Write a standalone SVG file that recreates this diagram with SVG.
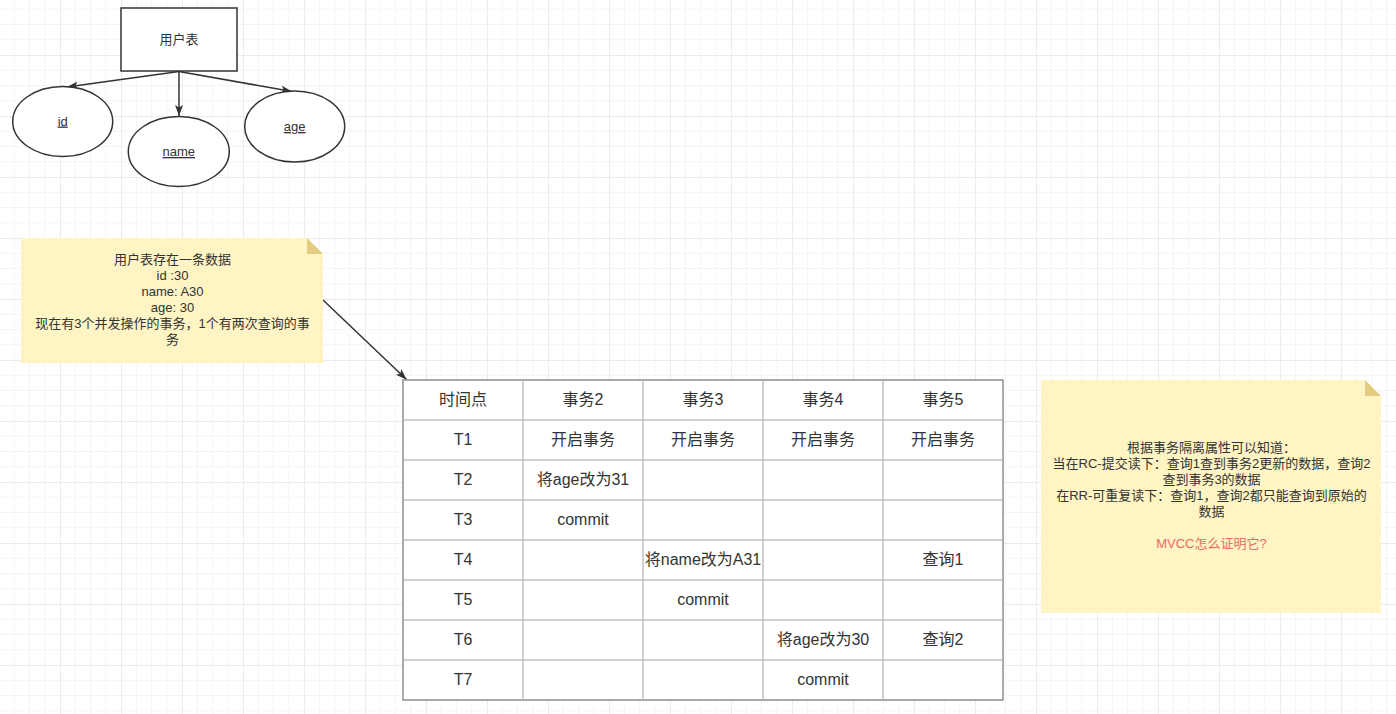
<svg xmlns="http://www.w3.org/2000/svg" width="1396" height="714" viewBox="0 0 1396 714">
<style>
  text { font-family: "Liberation Sans", "Noto Sans CJK SC", sans-serif; fill: #333333; text-anchor: middle; }
  .s12 { font-size: 13px; }
  .s14 { font-size: 16px; }
  .u { text-decoration: underline; }
  .shape { fill: #ffffff; stroke: #333333; stroke-width: 1.5; }
  .edge { fill: none; stroke: #333333; stroke-width: 1.5; }
  .note { fill: #fff4c3; stroke: none; }
  .fold { fill: #e2cc82; stroke: none; }
  .grid-in { stroke: #a3a3a3; stroke-width: 1; fill: none; }
  .grid-out { stroke: #8f8f8f; stroke-width: 1.5; fill: #ffffff; }
  .red { fill: #ea6b66; }
</style>
<defs>
  <pattern id="bg" x="-1" y="-6" width="61" height="61" patternUnits="userSpaceOnUse">
    <path d="M15.25 0V61M30.5 0V61M45.75 0V61M0 15.25H61M0 30.5H61M0 45.75H61" stroke="#f4f4f4" stroke-width="1" fill="none"/>
    <path d="M0.5 0V61M0 0.5H61" stroke="#ebebeb" stroke-width="1" fill="none"/>
  </pattern>
  <marker id="arr" markerUnits="userSpaceOnUse" markerWidth="12" markerHeight="10" refX="11" refY="4" orient="auto">
    <path d="M0,0 L11,4 L0,8 L2.5,4 Z" fill="#333333"/>
  </marker>
</defs>
<rect width="1396" height="714" fill="#ffffff"/>
<rect width="1396" height="714" fill="url(#bg)"/>

<g id="connectors">
  <path class="edge" d="M179 71.5 L67 87" marker-end="url(#arr)"/>
  <path class="edge" d="M179 71.5 L179 116" marker-end="url(#arr)"/>
  <path class="edge" d="M179 71.5 L292 91.5" marker-end="url(#arr)"/>
  <path class="edge" d="M323 300 L406.5 379.5" marker-end="url(#arr)"/>
</g>

<g id="node-users">
  <rect class="shape" x="121" y="8" width="116" height="63"/>
  <text class="s12" x="179" y="43.5">用户表</text>
</g>
<g id="node-id">
  <ellipse class="shape" cx="62.7" cy="121.5" rx="50" ry="35"/>
  <text class="s12 u" x="62.7" y="125.5">id</text>
</g>
<g id="node-name">
  <ellipse class="shape" cx="178.8" cy="151.5" rx="50.5" ry="35"/>
  <text class="s12 u" x="178.8" y="156">name</text>
</g>
<g id="node-age">
  <ellipse class="shape" cx="294.7" cy="126.5" rx="50" ry="35.5"/>
  <text class="s12 u" x="294.7" y="131">age</text>
</g>

<g id="note-data">
  <path class="note" d="M21 238 H307 L323 254 V363 H21 Z"/>
  <path class="fold" d="M307 238 L323 254 H307 Z"/>
  <text class="s12" x="172.5" y="263.5">用户表存在一条数据</text>
  <text class="s12" x="172.5" y="279.5">id :30</text>
  <text class="s12" x="172.5" y="295.5">name: A30</text>
  <text class="s12" x="172.5" y="311.5">age: 30</text>
  <text class="s12" x="172.5" y="327.5">现在有3个并发操作的事务，1个有两次查询的事</text>
  <text class="s12" x="172.5" y="343.5">务</text>
</g>

<g id="table">
  <rect class="grid-out" x="403" y="380" width="600" height="320"/>
  <path class="grid-in" d="M523 380V700M643 380V700M763 380V700M883 380V700M403 420H1003M403 460H1003M403 500H1003M403 540H1003M403 580H1003M403 620H1003M403 660H1003"/>
  <g class="s14">
    <text x="463" y="404.5">时间点</text>
    <text x="583" y="404.5">事务2</text>
    <text x="703" y="404.5">事务3</text>
    <text x="823" y="404.5">事务4</text>
    <text x="943" y="404.5">事务5</text>
    <text x="463" y="444.5">T1</text>
    <text x="583" y="444.5">开启事务</text>
    <text x="703" y="444.5">开启事务</text>
    <text x="823" y="444.5">开启事务</text>
    <text x="943" y="444.5">开启事务</text>
    <text x="463" y="484.5">T2</text>
    <text x="583" y="484.5">将age改为31</text>
    <text x="463" y="524.5">T3</text>
    <text x="583" y="524.5">commit</text>
    <text x="463" y="564.5">T4</text>
    <text x="703" y="564.5">将name改为A31</text>
    <text x="943" y="564.5">查询1</text>
    <text x="463" y="604.5">T5</text>
    <text x="703" y="604.5">commit</text>
    <text x="463" y="644.5">T6</text>
    <text x="823" y="644.5">将age改为30</text>
    <text x="943" y="644.5">查询2</text>
    <text x="463" y="684.5">T7</text>
    <text x="823" y="684.5">commit</text>
  </g>
</g>

<g id="note-mvcc">
  <path class="note" d="M1041 380 H1365 L1381 396 V613 H1041 Z"/>
  <path class="fold" d="M1365 380 L1381 396 H1365 Z"/>
  <text class="s12" x="1211.5" y="452">根据事务隔离属性可以知道：</text>
  <text class="s12" x="1211.5" y="468">当在RC-提交读下：查询1查到事务2更新的数据，查询2</text>
  <text class="s12" x="1211.5" y="483.5">查到事务3的数据</text>
  <text class="s12" x="1211.5" y="500">在RR-可重复读下：查询1，查询2都只能查询到原始的</text>
  <text class="s12" x="1211.5" y="516">数据</text>
  <text class="s12 red" x="1211.5" y="548">MVCC怎么证明它?</text>
</g>
</svg>
